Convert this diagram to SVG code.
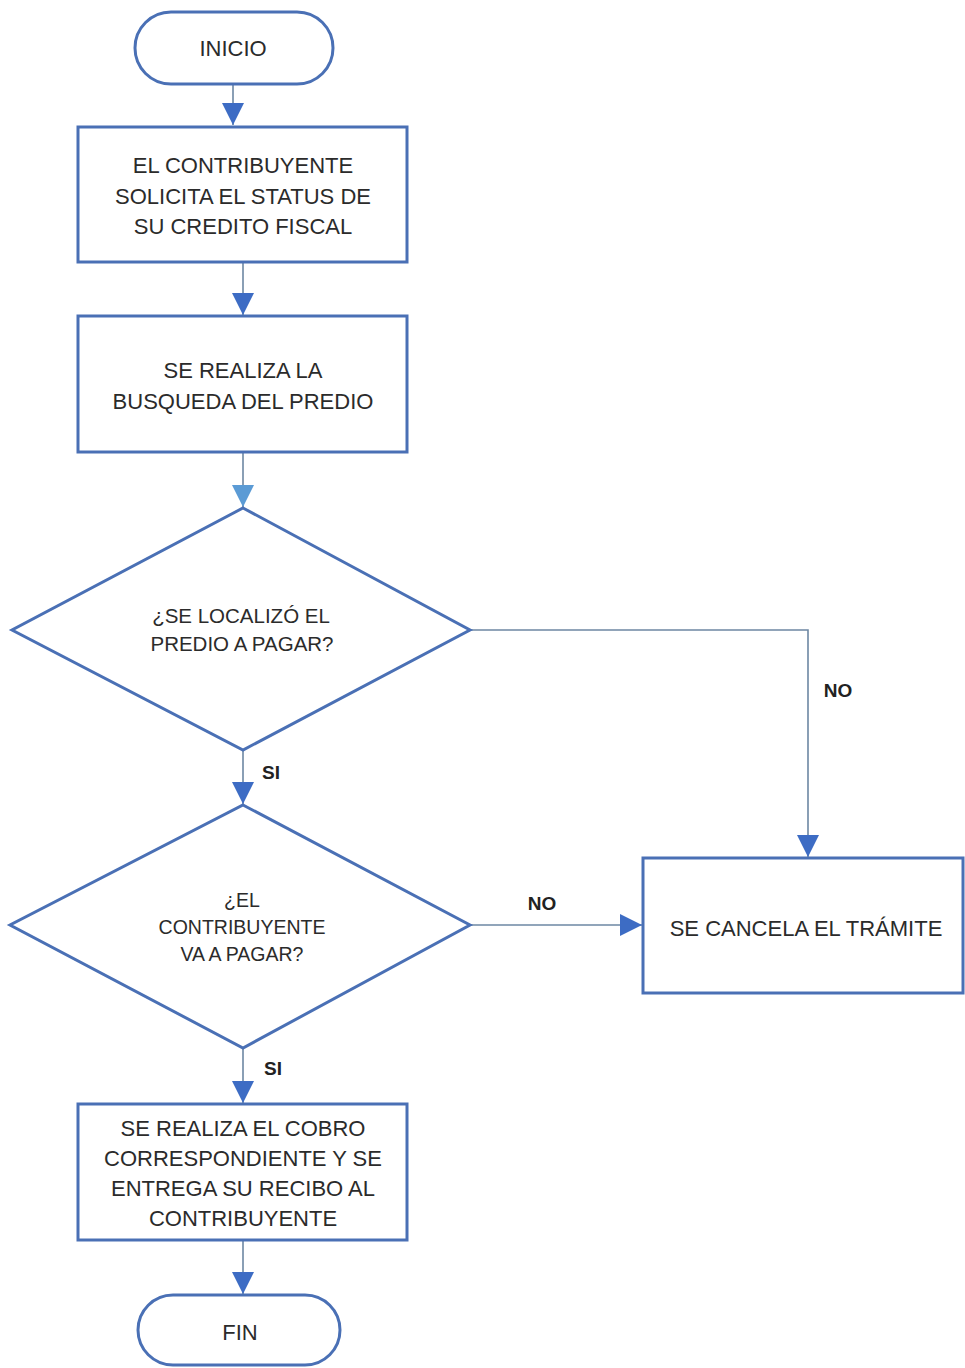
<svg xmlns="http://www.w3.org/2000/svg" width="965" height="1368" viewBox="0 0 965 1368">
<defs>
<style>
.shape{fill:#fff;stroke:#4a70b5;stroke-width:3}
.conn{fill:none;stroke:#6d87a3;stroke-width:1.6}
.t{font-family:"Liberation Sans",Arial,sans-serif;font-size:22px;fill:#2b2b2b;text-anchor:middle}
.d1{font-size:20.5px}
.d2{font-size:19.5px}
.lbl{font-family:"Liberation Sans",Arial,sans-serif;font-size:19px;font-weight:bold;fill:#222;text-anchor:middle}
</style>
<marker id="ah" viewBox="0 0 10 10" refX="10" refY="5" markerWidth="22" markerHeight="22" markerUnits="userSpaceOnUse" orient="auto">
<path d="M0,0 L10,5 L0,10 z" fill="#3d6cc4"/>
</marker>
<marker id="ah2" viewBox="0 0 10 10" refX="10" refY="5" markerWidth="22" markerHeight="22" markerUnits="userSpaceOnUse" orient="auto">
<path d="M0,0 L10,5 L0,10 z" fill="#5b9bd5"/>
</marker>
</defs>
<rect width="965" height="1368" fill="#fff"/>
<g id="connectors">
<path class="conn" d="M233,84 V125" marker-end="url(#ah)"/>
<path class="conn" d="M243,262 V315" marker-end="url(#ah)"/>
<path class="conn" d="M243,452 V507" marker-end="url(#ah2)"/>
<path class="conn" d="M470,630 H808 V857" marker-end="url(#ah)"/>
<path class="conn" d="M243,750 V804" marker-end="url(#ah)"/>
<path class="conn" d="M470,925 H642" marker-end="url(#ah)"/>
<path class="conn" d="M243,1048 V1103" marker-end="url(#ah)"/>
<path class="conn" d="M243,1240 V1294" marker-end="url(#ah)"/>
<text class="lbl" x="838" y="697">NO</text>
<text class="lbl" x="271" y="779">SI</text>
<text class="lbl" x="542" y="910">NO</text>
<text class="lbl" x="273" y="1075">SI</text>
</g>
<g id="inicio">
<rect class="shape" x="135" y="12" width="198" height="72" rx="36"/>
<text class="t" x="233" y="56">INICIO</text>
</g>
<g id="solicita">
<rect class="shape" x="78" y="127" width="329" height="135"/>
<text class="t" x="243" y="173">EL CONTRIBUYENTE</text>
<text class="t" x="243" y="204">SOLICITA EL STATUS DE</text>
<text class="t" x="243" y="234">SU CREDITO FISCAL</text>
</g>
<g id="busqueda">
<rect class="shape" x="78" y="316" width="329" height="136"/>
<text class="t" x="243" y="378">SE REALIZA LA</text>
<text class="t" x="243" y="409">BUSQUEDA DEL PREDIO</text>
</g>
<g id="localizo">
<polygon class="shape" points="243,508 470,630 243,750 12,630"/>
<text class="t d1" x="241" y="623">¿SE LOCALIZÓ EL</text>
<text class="t d1" x="242" y="651">PREDIO A PAGAR?</text>
</g>
<g id="pagar">
<polygon class="shape" points="243,805 470,925 243,1048 10,925"/>
<text class="t d2" x="242" y="907">¿EL</text>
<text class="t d2" x="242" y="934">CONTRIBUYENTE</text>
<text class="t d2" x="242" y="961">VA A PAGAR?</text>
</g>
<g id="cancela">
<rect class="shape" x="643" y="858" width="320" height="135"/>
<text class="t" x="806" y="936">SE CANCELA EL TRÁMITE</text>
</g>
<g id="cobro">
<rect class="shape" x="78" y="1104" width="329" height="136"/>
<text class="t" x="243" y="1136">SE REALIZA EL COBRO</text>
<text class="t" x="243" y="1166">CORRESPONDIENTE Y SE</text>
<text class="t" x="243" y="1196">ENTREGA SU RECIBO AL</text>
<text class="t" x="243" y="1226">CONTRIBUYENTE</text>
</g>
<g id="fin">
<rect class="shape" x="138" y="1295" width="202" height="70" rx="35"/>
<text class="t" x="240" y="1340">FIN</text>
</g>
</svg>
